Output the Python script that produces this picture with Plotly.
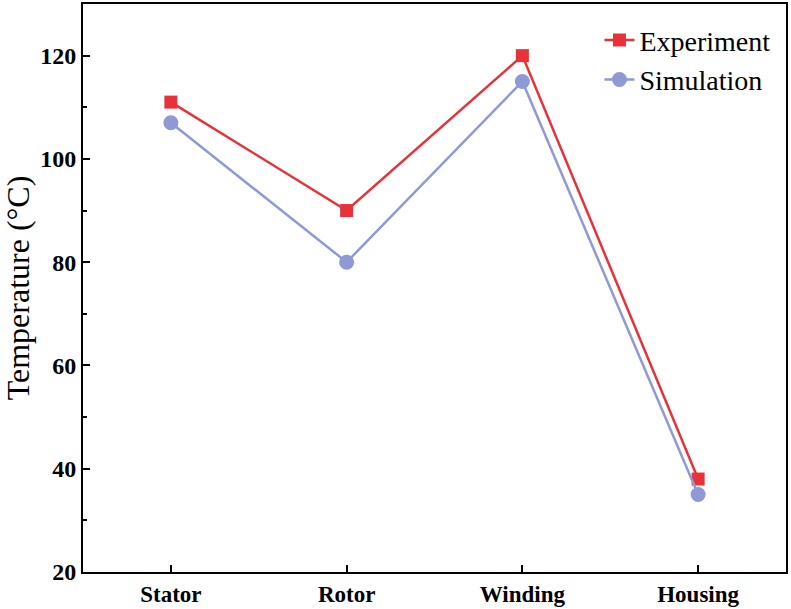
import plotly.graph_objects as go

categories = ["Stator", "Rotor", "Winding", "Housing"]
experiment = [111, 90, 120, 38]
simulation = [107, 80, 115, 35]

red = "#e8323a"
blue = "#8e99d6"
font_family = "Liberation Serif, Times New Roman, serif"

fig = go.Figure()
fig.add_trace(go.Scatter(
    x=categories, y=experiment, name="Experiment", mode="lines+markers",
    line=dict(color=red, width=2.5), marker=dict(symbol="square", size=13, color=red),
))
fig.add_trace(go.Scatter(
    x=categories, y=simulation, name="Simulation", mode="lines+markers",
    line=dict(color=blue, width=2.5), marker=dict(symbol="circle", size=15, color=blue),
))

fig.update_layout(
    width=791, height=609,
    margin=dict(l=83, r=5, t=4, b=37, autoexpand=False),
    paper_bgcolor="white", plot_bgcolor="white",
    font=dict(family=font_family, color="black"),
    showlegend=True,
    legend=dict(
        x=0.985, y=0.98, xanchor="right", yanchor="top",
        font=dict(family=font_family, size=28, color="black"),
        bgcolor="rgba(0,0,0,0)", tracegroupgap=0,
    ),
)
fig.update_xaxes(
    type="category", range=[-0.5, 3.5],
    showline=True, linecolor="black", linewidth=2, mirror=True,
    ticks="inside", ticklen=7, tickwidth=2, tickcolor="black",
    showgrid=False, zeroline=False, automargin=False,
    tickfont=dict(family=font_family, size=23, color="black", weight="bold"),
)
fig.update_yaxes(
    range=[20, 130], tickmode="array", tickvals=[20, 40, 60, 80, 100, 120],
    showline=True, linecolor="black", linewidth=2, mirror=True,
    ticks="inside", ticklen=7, tickwidth=2, tickcolor="black",
    minor=dict(tickvals=[30, 50, 70, 90, 110, 130], ticks="inside", ticklen=4, tickwidth=2, tickcolor="black"),
    showgrid=False, zeroline=False, automargin=False,
    tickfont=dict(family=font_family, size=24, color="black", weight="bold"),
    title=dict(text="Temperature (°C)", font=dict(family=font_family, size=32, color="black"), standoff=8),
)

fig.write_html("out.html", config={"displayModeBar": False},
               post_script="document.body.style.margin='0';document.body.style.padding='0';")
